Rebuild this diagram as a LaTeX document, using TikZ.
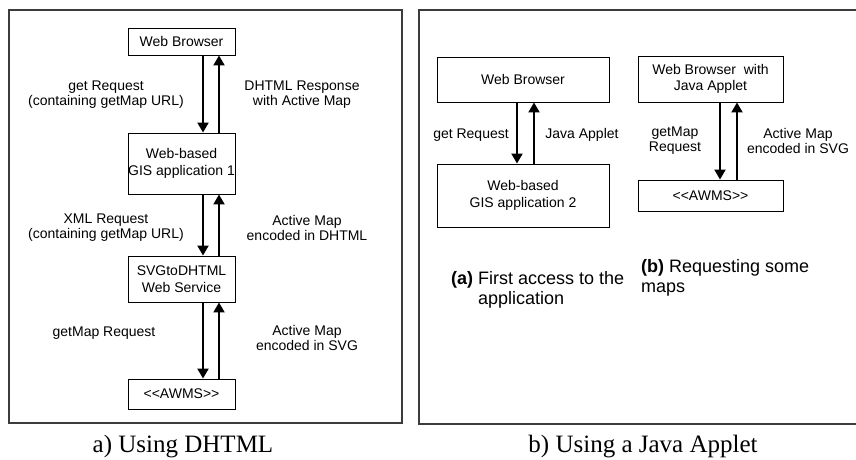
\documentclass[tikz,border=0pt]{standalone}
\usepackage{fontspec}
\setmainfont{Liberation Serif}
\setsansfont{Liberation Sans}
\usepackage{xcolor}
\definecolor{framegray}{RGB}{60,60,60}
\usepackage{tikz}
\usetikzlibrary{arrows.meta,positioning}

\begin{document}
\begin{tikzpicture}[x=1pt, y=-1pt,
  compbox/.style={draw=black, line width=0.9pt, inner sep=0pt, align=center,
    font=\sffamily\fontsize{14}{16.5}\selectfont},
  msg/.style={align=center, inner sep=0pt, font=\sffamily\fontsize{14}{15}\selectfont},
  flow/.style={line width=2pt, -{Triangle[length=10pt,width=11pt]}},
  caption/.style={inner sep=0pt, font=\fontsize{25}{28}\selectfont}]

\useasboundingbox (0,0) rectangle (856,460);

% Frames
\draw[framegray, line width=1.3pt] (9,10) rectangle (402,423);
\draw[framegray, line width=1.3pt] (856,10) -- (419,10) -- (419,424) -- (856,424);

% a) Using DHTML
\node[compbox, minimum width=107pt, minimum height=27pt] (wb1) at (181.5,41.5) {Web Browser};
\node[compbox, minimum width=107pt, minimum height=61pt] (gis1) at (181.5,163.5) {Web-based\\GIS application 1};
\node[compbox, minimum width=107pt, minimum height=46pt] (svg1) at (181.5,279) {SVGtoDHTML\\Web Service};
\node[compbox, minimum width=107pt, minimum height=30pt] (awms1) at (181.5,394) {<\kern0pt<AWMS>\kern0pt>};

\draw[flow] ([xshift=21.5pt]wb1.south) -- ([xshift=21.5pt]gis1.north);
\draw[flow] ([xshift=37.5pt]gis1.north) -- ([xshift=37.5pt]wb1.south);
\draw[flow] ([xshift=21.5pt]gis1.south) -- ([xshift=21.5pt]svg1.north);
\draw[flow] ([xshift=37.5pt]svg1.north) -- ([xshift=37.5pt]gis1.south);
\draw[flow] ([xshift=21.5pt]svg1.south) -- ([xshift=21.5pt]awms1.north);
\draw[flow] ([xshift=37.5pt]awms1.north) -- ([xshift=37.5pt]svg1.south);

\node[msg] (getreq1) at (106,95) {get Request\\(containing getMap URL)};
\node[msg] (dhtmlresp) at (302,95) {DHTML Response\\with Active Map};
\node[msg] (xmlreq) at (106,228) {XML Request\\(containing getMap URL)};
\node[msg] (mapdhtml) at (307,228) {Active Map\\encoded in DHTML};
\node[msg] (getmap1) at (104,333) {getMap Request};
\node[msg] (mapsvg1) at (307,338) {Active Map\\encoded in SVG};

\node[caption] (capa) at (183,447) {a) Using DHTML};

% b) Using a Java Applet
\node[compbox, minimum width=172pt, minimum height=45pt] (wb2) at (523,79.5) {Web Browser};
\node[compbox, minimum width=172pt, minimum height=63pt] (gis2) at (523,195.5) {Web-based\\GIS application 2};
\node[compbox, minimum width=145pt, minimum height=46pt] (wb3) at (710.5,79) {Web Browser\ \ with\\Java Applet};
\node[compbox, minimum width=145pt, minimum height=31pt] (awms2) at (710.5,195.5) {<\kern0pt<AWMS>\kern0pt>};

\draw[flow] ([xshift=-6pt]wb2.south) -- ([xshift=-6pt]gis2.north);
\draw[flow] ([xshift=11pt]gis2.north) -- ([xshift=11pt]wb2.south);
\draw[flow] ([xshift=9.5pt]wb3.south) -- ([xshift=9.5pt]awms2.north);
\draw[flow] ([xshift=26.5pt]awms2.north) -- ([xshift=26.5pt]wb3.south);

\node[msg] (getreq2) at (471,135) {get Request};
\node[msg] (applet) at (582,135) {Java Applet};
\node[msg] (getmap2) at (675,141) {getMap\\Request};
\node[msg] (mapsvg2) at (798,141) {Active Map\\encoded in SVG};

\node[anchor=west, align=left, inner sep=0pt, font=\sffamily\fontsize{18}{20}\selectfont] (suba) at (451,290)
  {\textbf{(a)} First access to the\\\hphantom{\textbf{(a)} }application};
\node[anchor=west, align=left, inner sep=0pt, font=\sffamily\fontsize{18}{20}\selectfont] (subb) at (641,278)
  {\textbf{(b)} Requesting some\\maps};

\node[caption] (capb) at (643,447) {b) Using a Java Applet};

\end{tikzpicture}
\end{document}
